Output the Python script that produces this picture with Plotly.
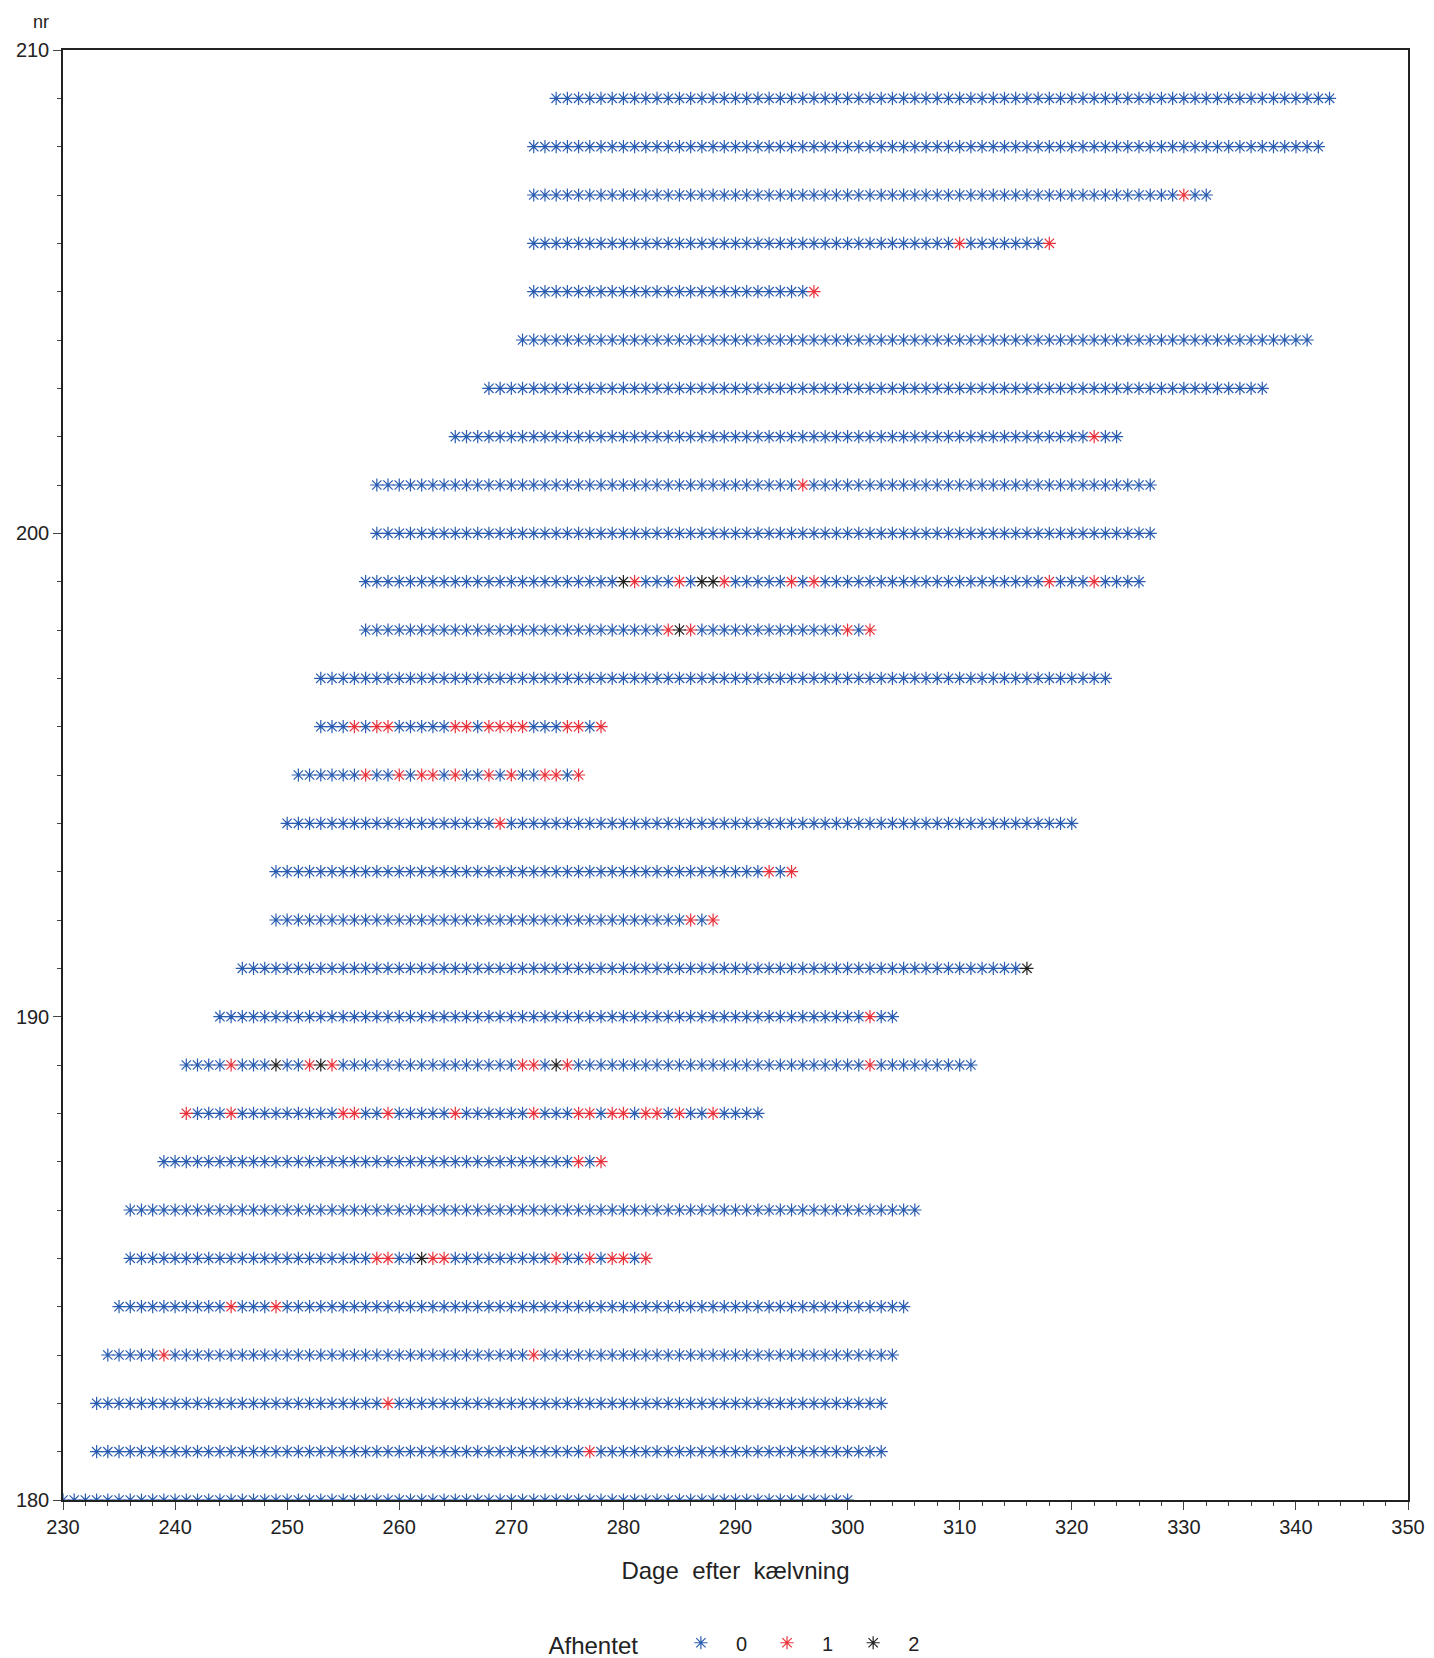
import plotly.graph_objects as go

nr = list(range(180, 210))
start = [230,233,233,234,235,236,236,239,241,241,244,246,249,249,250,251,253,253,257,257,258,258,265,268,271,272,272,272,272,274]
end   = [300,303,303,304,305,282,306,278,292,311,304,316,288,295,320,276,278,323,302,326,327,327,324,337,341,297,318,332,342,343]
red = {
 181:[277], 182:[259], 183:[239,272], 184:[245,249],
 185:[258,259,263,264,274,277,279,280,282],
 187:[276,278],
 188:[241,245,255,256,259,265,272,276,277,279,280,282,283,285,288],
 189:[245,252,254,271,272,275,302],
 190:[302], 192:[286,288], 193:[293,295], 194:[269],
 195:[257,260,262,263,265,268,270,273,274,276],
 196:[256,258,259,265,266,268,269,270,271,275,276,278],
 198:[284,286,300,302],
 199:[281,285,289,295,297,318,322],
 201:[296], 202:[322], 205:[297], 206:[310,318], 207:[330],
}
black = {185:[262], 189:[249,253,274], 191:[316], 198:[285], 199:[280,287,288]}

groups = {0: ([], []), 1: ([], []), 2: ([], [])}
for n, s, e in zip(nr, start, end):
    for d in range(s, e + 1):
        g = 2 if d in black.get(n, []) else (1 if d in red.get(n, []) else 0)
        groups[g][0].append(d)
        groups[g][1].append(n)

colors = {0: "#2a5db0", 1: "#e8323c", 2: "#222222"}
fig = go.Figure()
for g in (0, 1, 2):
    fig.add_trace(go.Scatter(x=groups[g][0], y=groups[g][1], mode="markers", name=str(g),
                             marker=dict(symbol="asterisk-open", size=11, color=colors[g],
                                         line=dict(color=colors[g], width=1.2))))

fig.update_layout(
    width=1434, height=1658, paper_bgcolor="white", plot_bgcolor="white",
    margin=dict(l=55, r=34, t=42, b=166, autoexpand=False),
    font=dict(family="Liberation Sans, Arial", size=20, color="#222"),
    legend=dict(orientation="h", x=0.5, xanchor="center", y=-0.085, yanchor="top",
                title=dict(text="Afhentet   "), font=dict(size=20), itemwidth=60),
    annotations=[dict(text="nr", x=0, y=1, xref="paper", yref="paper", xanchor="right",
                      yanchor="bottom", xshift=-12, yshift=16, showarrow=False, font=dict(size=18))],
)
fig.update_xaxes(range=[230, 350], dtick=10, ticks="outside", ticklen=8, showgrid=False,
                 zeroline=False, showline=True, mirror=True, linecolor="#222", linewidth=1.5,
                 minor=dict(dtick=2, ticks="outside", ticklen=4),
                 title=dict(text="Dage  efter  kælvning", standoff=25))
fig.update_yaxes(range=[180, 210], dtick=10, ticks="outside", ticklen=8, showgrid=False,
                 zeroline=False, showline=True, mirror=True, linecolor="#222", linewidth=1.5,
                 minor=dict(dtick=1, ticks="outside", ticklen=4))
fig.write_html("out.html")
